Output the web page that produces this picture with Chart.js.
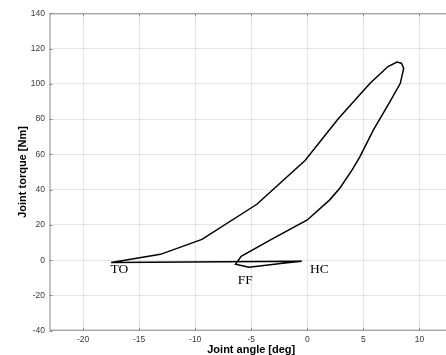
<!DOCTYPE html>
<html>
<head>
<meta charset="utf-8">
<script src="https://cdn.jsdelivr.net/npm/chart.js@4/dist/chart.umd.min.js"></script>
<style>
  html, body { margin: 0; padding: 0; background: #fff; overflow: hidden; }
  #wrap { position: relative; width: 453px; height: 355px; }
</style>
</head>
<body>
<div id="wrap"><canvas id="loop-chart"></canvas></div>
<script>
// Joint angle / torque loop (one gait cycle)
const jointAngle = [-0.5, -1.8, -5.2, -6.4, -5.9, -3.2, 0.0, 2.0, 2.9, 4.0, 4.7, 5.9, 7.3, 8.3, 8.6, 8.4, 8.0, 7.2, 5.6, 2.8, -0.2, -4.5, -9.4, -13.1, -17.5, -0.5];
const jointTorque = [-0.6, -1.4, -4.0, -2.3, 2.2, 11.8, 22.8, 34.2, 40.8, 51.2, 58.7, 73.9, 89.0, 100.3, 108.8, 111.7, 112.3, 109.8, 100.3, 80.5, 56.5, 31.7, 11.8, 3.3, -1.3, -0.6];

// Gait event labels, anchored in data coordinates
const eventNames = ['TO', 'FF', 'HC'];
const eventAngle = [-17.55, -6.2, 0.25];
const eventTorque = [-7.1, -13.6, -7.4];

const AXIS_COLOR = '#888';
const GRID_COLOR = 'rgba(38,38,38,0.12)';
const TICK_COLOR = '#3a3a3a';

const points = jointAngle.map((a, i) => ({ x: a, y: jointTorque[i] }));

// MATLAB-like box with inward tick marks
const boxPlugin = {
    id: 'box',
    afterDraw(chart) {
        const { ctx, chartArea: a, scales } = chart;
        ctx.save();
        ctx.strokeStyle = AXIS_COLOR;
        ctx.lineWidth = 1;
        ctx.strokeRect(a.left + 0.5, a.top + 0.5, a.right - a.left - 1, a.bottom - a.top - 1);
        const len = 3;
        ctx.beginPath();
        scales.x.ticks.forEach(t => {
            const px = Math.round(scales.x.getPixelForValue(t.value)) + 0.5;
            ctx.moveTo(px, a.bottom); ctx.lineTo(px, a.bottom - len);
            ctx.moveTo(px, a.top); ctx.lineTo(px, a.top + len);
        });
        scales.y.ticks.forEach(t => {
            const py = Math.round(scales.y.getPixelForValue(t.value)) + 0.5;
            ctx.moveTo(a.left, py); ctx.lineTo(a.left + len, py);
            ctx.moveTo(a.right, py); ctx.lineTo(a.right - len, py);
        });
        ctx.stroke();
        ctx.restore();
    }
};

// Event annotations in serif text
const eventPlugin = {
    id: 'events',
    afterDatasetsDraw(chart) {
        const { ctx, scales } = chart;
        ctx.save();
        ctx.fillStyle = '#000';
        ctx.font = '13.5px "Liberation Serif", "Times New Roman", serif';
        ctx.textAlign = 'left';
        ctx.textBaseline = 'alphabetic';
        eventNames.forEach((name, i) => {
            ctx.fillText(name, scales.x.getPixelForValue(eventAngle[i]), scales.y.getPixelForValue(eventTorque[i]));
        });
        ctx.restore();
    }
};

new Chart(document.getElementById('loop-chart').getContext('2d'), {
    type: 'scatter',
    data: {
        datasets: [{
            data: points,
            showLine: true,
            borderColor: '#000',
            borderWidth: 1.5,
            pointRadius: 0,
            tension: 0,
            fill: false
        }]
    },
    options: {
        responsive: true,
        maintainAspectRatio: false,
        animation: false,
        events: [],
        layout: { padding: { top: 13.3, right: 0, bottom: 0, left: 0 } },
        plugins: { legend: { display: false }, tooltip: { enabled: false } },
        scales: {
            x: {
                type: 'linear',
                min: -23,
                max: 13,
                afterFit(scale) { scale.height = 24.3; },
                ticks: {
                    stepSize: 5,
                    includeBounds: false,
                    padding: 4,
                    maxRotation: 0,
                    color: TICK_COLOR,
                    font: { family: 'Liberation Sans, Arial, sans-serif', size: 8.5 }
                },
                grid: { color: GRID_COLOR, drawTicks: false },
                border: { display: false },
                title: {
                    display: true,
                    text: 'Joint angle [deg]',
                    color: '#000',
                    padding: { top: 0, bottom: 0 },
                    font: { family: 'Liberation Sans, Arial, sans-serif', size: 11, weight: 'bold', lineHeight: 1 }
                }
            },
            y: {
                type: 'linear',
                min: -40,
                max: 140,
                afterFit(scale) { scale.width = 49.5; },
                ticks: {
                    stepSize: 20,
                    padding: 4.5,
                    color: TICK_COLOR,
                    font: { family: 'Liberation Sans, Arial, sans-serif', size: 8.5 }
                },
                grid: { color: GRID_COLOR, drawTicks: false },
                border: { display: false },
                title: {
                    display: true,
                    text: 'Joint torque [Nm]',
                    color: '#000',
                    padding: { top: 17.3, bottom: 0 },
                    font: { family: 'Liberation Sans, Arial, sans-serif', size: 11, weight: 'bold', lineHeight: 1 }
                }
            }
        }
    },
    plugins: [boxPlugin, eventPlugin]
});
</script>
</body>
</html>
